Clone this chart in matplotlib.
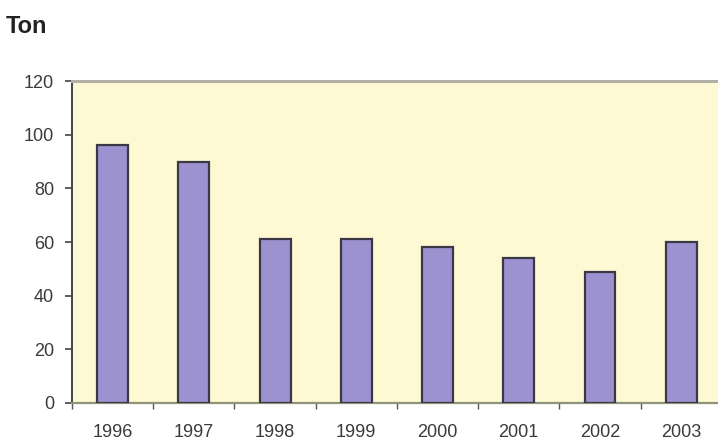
import numpy as np
import matplotlib.pyplot as plt

years = ["1996", "1997", "1998", "1999", "2000", "2001", "2002", "2003"]
tons = [96, 90, 61, 61, 58, 54, 49, 60]
y_ticks = [0, 20, 40, 60, 80, 100, 120]

plt.rcParams["font.family"] = ["Liberation Sans", "DejaVu Sans"]

fig = plt.figure(figsize=(7.18, 4.41), dpi=100)
ax = fig.add_axes([0.1003, 0.0862, 0.905, 0.730])
ax.set_facecolor("#fef9d2")

x = np.arange(len(years))
ax.bar(x, tons, width=0.38, color="#9d92d0", edgecolor="#3b3846", linewidth=1.6, zorder=3)

ax.set_xlim(-0.5, len(years) - 0.5)
ax.set_ylim(0, 120)
ax.set_yticks(y_ticks)
ax.set_yticklabels([str(v) for v in y_ticks], fontsize=13, color="#3a3a3a")

# tick marks between categories, labels centred under the bars
ax.set_xticks(np.arange(len(years) + 1) - 0.5)
ax.set_xticklabels([])
ax.set_xticks(x, minor=True)
ax.set_xticklabels(years, minor=True, fontsize=13, color="#3a3a3a")
ax.tick_params(axis="x", which="major", length=4, width=1, color="#555555", direction="out")
ax.tick_params(axis="x", which="minor", length=0, pad=15)
ax.tick_params(axis="y", length=5, width=1.2, color="#444444", pad=8)

ax.spines["left"].set_color("#444444")
ax.spines["left"].set_linewidth(1.4)
ax.spines["bottom"].set_color("#8f9478")
ax.spines["bottom"].set_linewidth(1.6)
ax.spines["top"].set_color("#b3b1a6")
ax.spines["top"].set_linewidth(2.2)
ax.spines["right"].set_visible(False)

fig.text(0.008, 0.94, "Ton", fontsize=17, fontweight="bold", color="#222222",
         family=["Liberation Sans Narrow", "Liberation Sans"], va="center", ha="left")

fig.savefig("out.png", dpi=100)
